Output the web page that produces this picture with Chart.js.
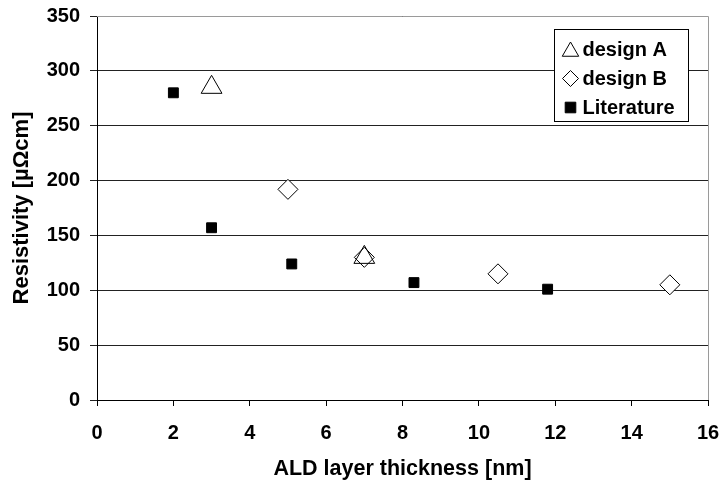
<!DOCTYPE html>
<html lang="en">
<head>
  <meta charset="UTF-8" />
  <title>Resistivity vs ALD layer thickness</title>
  <script src="https://cdn.jsdelivr.net/npm/chart.js"></script>
  <style>
    html, body { margin: 0; padding: 0; background: #fff; }
    #wrap { width: 721px; height: 484px; }
  </style>
</head>
<body>
  <div id="wrap"><canvas id="chart" width="721" height="484"></canvas></div>

  <script>
    // values
    const designAX = [3, 7];
    const designAY = [285, 130];
    const designBX = [5, 7, 10.5, 15];
    const designBY = [192, 130, 115, 105];
    const litX = [2, 3, 5.1, 8.3, 11.8];
    const litY = [280, 157, 124, 107, 101];

    const xTicks = [0, 2, 4, 6, 8, 10, 12, 14, 16];
    const yTicks = [0, 50, 100, 150, 200, 250, 300, 350];

    const FONT = "'Liberation Sans', Arial, sans-serif";

    function toPoints(xs, ys) {
      return xs.map((x, i) => ({ x: x, y: ys[i] }));
    }

    // gray top/right frame + legend box inside plot area
    const framePlugin = {
      id: "frame",
      afterDraw(chart) {
        const { ctx, chartArea: a } = chart;
        ctx.save();
        ctx.strokeStyle = "#9a9a9a";
        ctx.lineWidth = 1;
        ctx.beginPath();
        ctx.moveTo(a.left, a.top + 0.5);
        ctx.lineTo(a.right + 0.5, a.top + 0.5);
        ctx.lineTo(a.right + 0.5, a.bottom);
        ctx.stroke();

        // legend
        const bx = 554.5, by = 29.5, bw = 134, bh = 92;
        ctx.fillStyle = "#fff";
        ctx.fillRect(bx, by, bw, bh);
        ctx.strokeStyle = "#000";
        ctx.strokeRect(bx, by, bw, bh);
        const items = chart.data.datasets;
        ctx.font = "bold 20px " + FONT;
        ctx.textBaseline = "middle";
        items.forEach((ds, i) => {
          const cy = by + 20 + i * 29;
          const opts = {
            pointStyle: ds.pointStyle,
            radius: ds.legendRadius,
            rotation: 0,
            borderWidth: 1
          };
          ctx.fillStyle = ds.backgroundColor;
          ctx.strokeStyle = "#000";
          ctx.lineWidth = 1;
          Chart.helpers.drawPoint(ctx, opts, bx + 16, cy + (ds.pointStyle === "triangle" ? 2 : 0));
          ctx.fillStyle = "#000";
          ctx.fillText(ds.label, bx + 28, cy + 1);
        });
        ctx.restore();
      }
    };

    new Chart(document.getElementById("chart"), {
      type: "scatter",
      data: {
        datasets: [
          {
            label: "design A",
            data: toPoints(designAX, designAY),
            pointStyle: "triangle",
            pointRadius: 12,
            legendRadius: 9.5,
            backgroundColor: "rgba(255,255,255,0)",
            borderColor: "#000",
            borderWidth: 1
          },
          {
            label: "design B",
            data: toPoints(designBX, designBY),
            pointStyle: "rectRot",
            pointRadius: 10,
            legendRadius: 8,
            backgroundColor: "#fff",
            borderColor: "#000",
            borderWidth: 1
          },
          {
            label: "Literature",
            data: toPoints(litX, litY),
            pointStyle: "rect",
            pointRadius: 7,
            legendRadius: 7.5,
            backgroundColor: "#000",
            borderColor: "#000",
            borderWidth: 1
          }
        ]
      },
      options: {
        responsive: false,
        animation: false,
        layout: { padding: { top: 16, right: 12, left: 0, bottom: 0 } },
        plugins: {
          legend: { display: false },
          tooltip: { enabled: false }
        },
        scales: {
          x: {
            type: "linear",
            min: 0,
            max: 16,
            afterBuildTicks: (s) => { s.ticks = xTicks.map(v => ({ value: v })); },
            afterFit: (s) => { s.height = 84; s.paddingLeft = 0; s.paddingRight = 0; },
            grid: { drawOnChartArea: false, drawTicks: true, tickLength: 6, color: "#000" },
            border: { color: "#000", width: 1 },
            ticks: { color: "#000", font: { family: FONT, size: 20, weight: "bold" }, padding: 15 },
            title: {
              display: true,
              text: "ALD layer thickness [nm]",
              color: "#000",
              font: { family: FONT, size: 21.5, weight: "bold" },
              padding: { top: 0, bottom: 2 }
            }
          },
          y: {
            type: "linear",
            min: 0,
            max: 350,
            afterBuildTicks: (s) => { s.ticks = yTicks.map(v => ({ value: v })); },
            afterFit: (s) => { s.width = 97; s.paddingTop = 0; s.paddingBottom = 0; },
            grid: { drawOnChartArea: true, drawTicks: true, tickLength: 7, color: "#222" },
            border: { color: "#000", width: 1 },
            ticks: { color: "#000", font: { family: FONT, size: 20, weight: "bold" }, padding: 10 },
            title: {
              display: true,
              text: "Resistivity [µΩcm]",
              color: "#000",
              font: { family: FONT, size: 22, weight: "bold" },
              padding: { top: 9, bottom: 0 }
            }
          }
        }
      },
      plugins: [framePlugin]
    });
  </script>
</body>
</html>
